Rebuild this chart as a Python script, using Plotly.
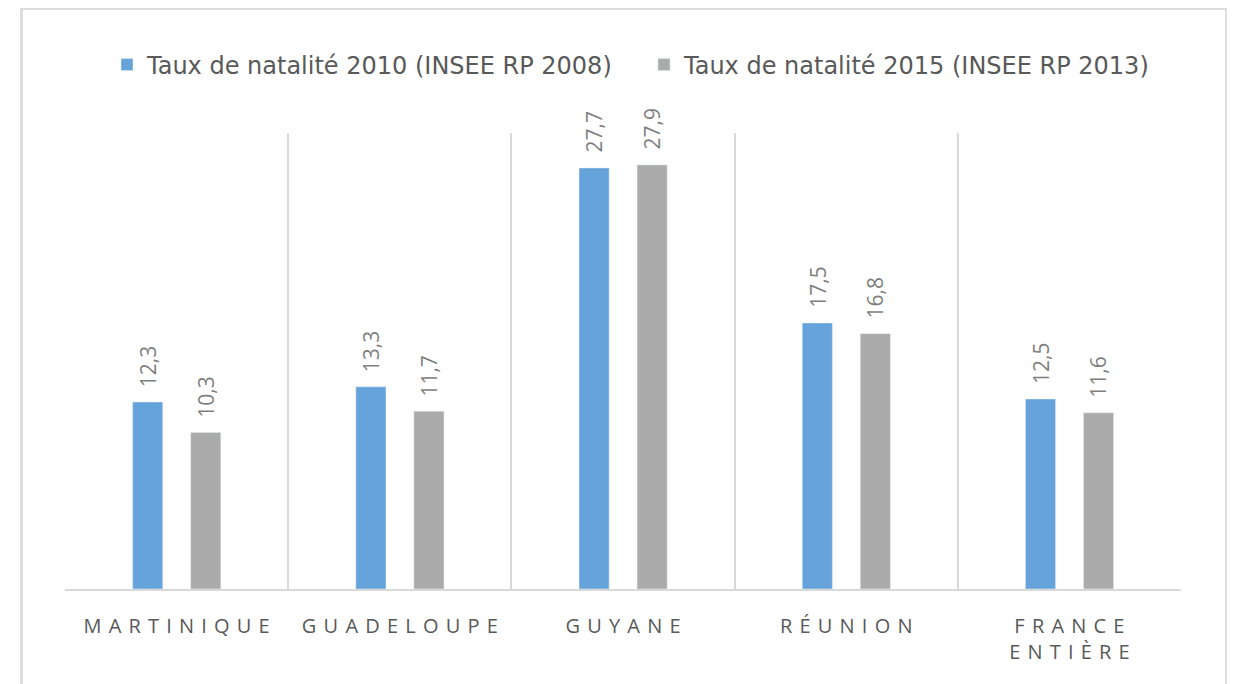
import plotly.graph_objects as go

categories = ["Martinique", "Guadeloupe", "Guyane", "Réunion", "France<br>entière"]
series_2010 = [12.3, 13.3, 27.7, 17.5, 12.5]
series_2015 = [10.3, 11.7, 27.9, 16.8, 11.6]
name_2010 = "Taux de natalité 2010 (INSEE RP 2008)"
name_2015 = "Taux de natalité 2015 (INSEE RP 2013)"

def spaced(label):
    return "<br>".join("\u200a ".join(part.upper()) for part in label.split("<br>"))

xlabels = [spaced(c) for c in categories]

BLUE = "#66A3DA"
GRAY = "#ABABAB"
TXT = "#7F7F7F"

OFF = 8  # body margin of the page
W, H = 1235 - OFF, 684 - OFF
L = 65 - OFF
T = 133 - OFF
PR = 1181 - OFF
PB = 589 - OFF
R = W - PR
B = H - PB
PW, PH = PR - L, PB - T

bar_w = 0.135
off_blue = -0.197
off_gray = 0.063

fig = go.Figure()
fig.add_trace(go.Bar(x=xlabels, y=series_2010, name=name_2010, marker_color=BLUE,
                     width=bar_w, offset=off_blue))
fig.add_trace(go.Bar(x=xlabels, y=series_2015, name=name_2015, marker_color=GRAY,
                     width=bar_w, offset=off_gray))

ann = []
for vals, off in [(series_2010, off_blue), (series_2015, off_gray)]:
    for i, v in enumerate(vals):
        ann.append(dict(x=i + off + bar_w / 2, y=v, xref="x", yref="y",
                        text=f"{v:.1f}".replace(".", ","), showarrow=False,
                        textangle=-90, xanchor="center", yanchor="bottom", yshift=13,
                        font=dict(family="Open Sans", size=21, color=TXT)))

fig.update_layout(
    width=W, height=H,
    margin=dict(l=L, r=R, t=T, b=B),
    paper_bgcolor="white", plot_bgcolor="white",
    barmode="overlay",
    showlegend=True,
    legend=dict(orientation="h", x=(122 - 15 - OFF - L) / PW, xanchor="left",
                y=(PB - (65 - OFF)) / PH, entrywidth=492, entrywidthmode="pixels",
                yanchor="middle", font=dict(family="DejaVu Sans", size=24, color="#595959"),
                traceorder="normal"),
    annotations=ann,
    shapes=[dict(type="rect", xref="paper", yref="paper",
                 x0=(21.5 - OFF - L) / PW, x1=(1226.5 - OFF - L) / PW,
                 y0=(PB - 720) / PH, y1=(PB - (8.5 - OFF)) / PH,
                 line=dict(color="#DDDDDD", width=3), fillcolor="rgba(0,0,0,0)", layer="below")],
)
fig.update_xaxes(type="category", tickson="boundaries", showgrid=True, gridcolor="#D9D9D9",
                 gridwidth=1.5, showline=True, linecolor="#D9D9D9", linewidth=2,
                 ticks="", range=[-0.5, 4.5], ticklabelstandoff=18,
                 tickfont=dict(family="Open Sans", size=20, color="#595959"))
fig.update_yaxes(range=[0, 30], showgrid=False, showticklabels=False, zeroline=False)

fig.write_html("out.html")
